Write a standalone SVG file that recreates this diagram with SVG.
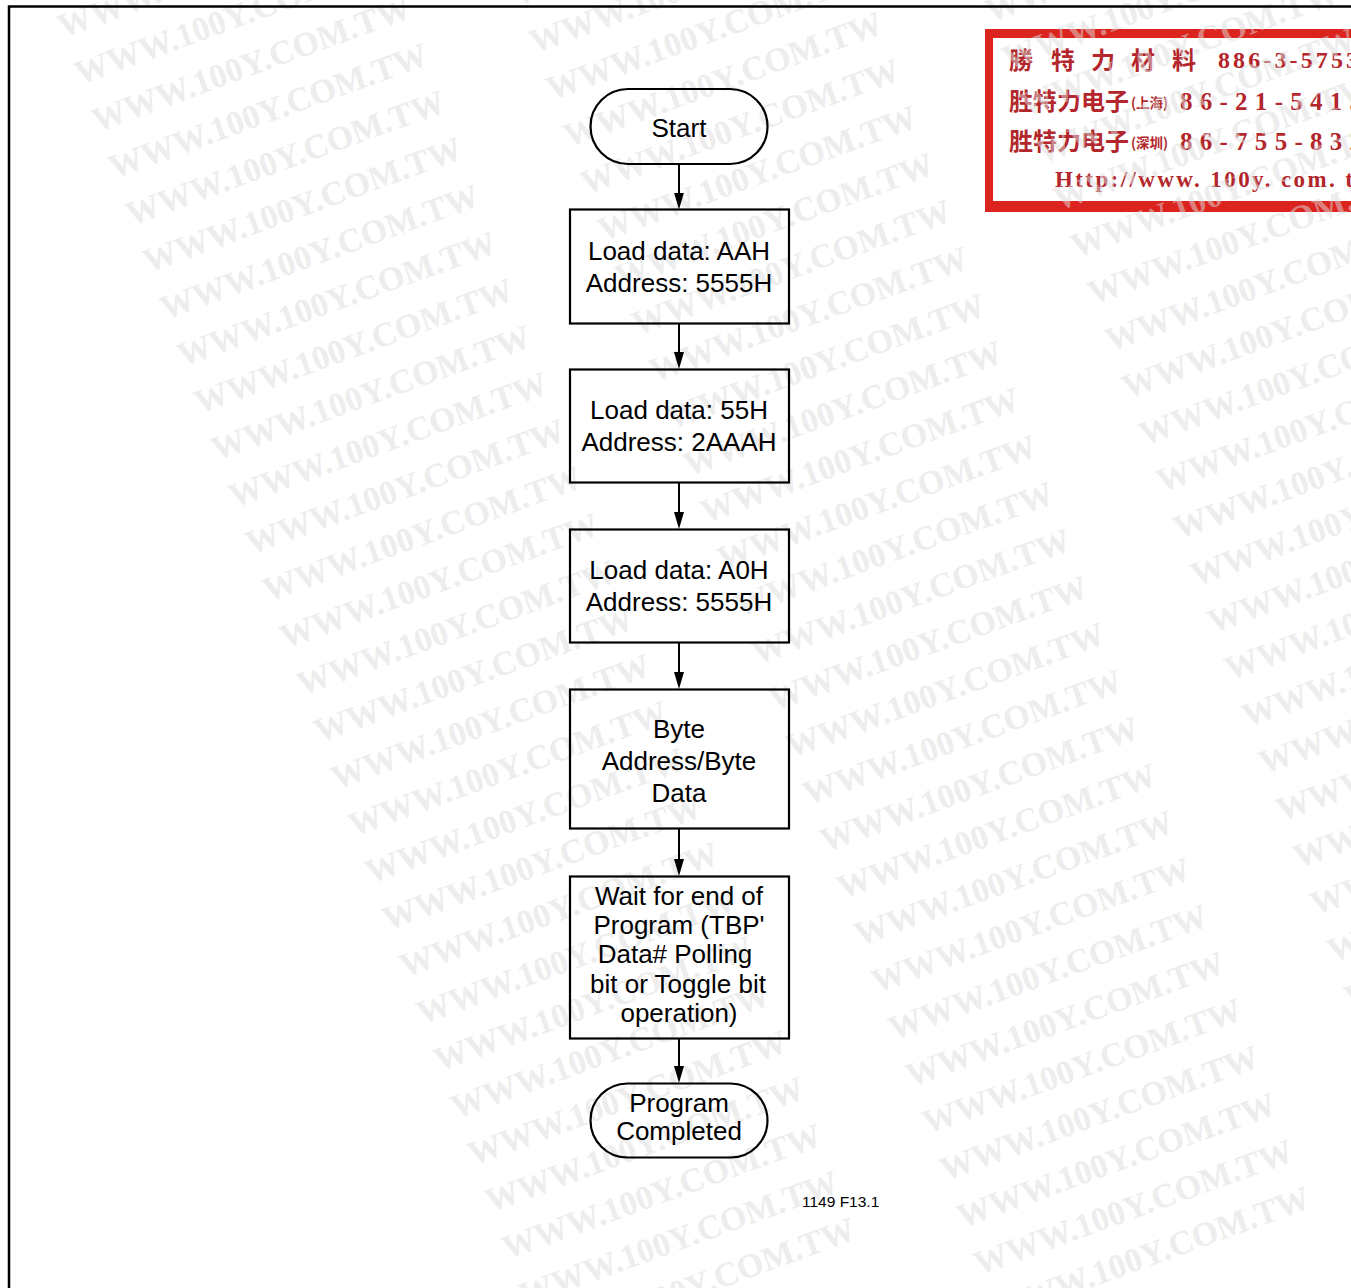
<svg xmlns="http://www.w3.org/2000/svg" xmlns:xlink="http://www.w3.org/1999/xlink" width="1351" height="1288" viewBox="0 0 1351 1288">
<style>
.box{fill:none;stroke:#000;stroke-width:2.2}
.lbl{font-family:"Liberation Sans",Arial,sans-serif;font-size:26px;fill:#000;text-anchor:middle}
.cap{font-family:"Liberation Sans",Arial,sans-serif;font-size:15.5px;fill:#000}
.conn{stroke:#000;stroke-width:2;fill:none;marker-end:url(#arr)}
.wm{font-family:"Liberation Serif","Times New Roman",serif;font-weight:bold;font-size:34px;fill:#dcdcdc;opacity:0.5}
.stc{font-family:"Noto Sans CJK TC","Noto Sans CJK SC",sans-serif;font-weight:bold;fill:#b3262b}
.stl{font-family:"Liberation Serif","Times New Roman",serif;font-weight:bold;fill:#b3262b}
</style>
<defs>
<marker id="arr" markerWidth="17" markerHeight="10" refX="11" refY="5" orient="auto" markerUnits="userSpaceOnUse">
<path d="M0,0 L17,5 L0,10 z" fill="#000"/>
</marker>
<g id="wmcol">
<text class="wm" x="0" y="0">WWW.100Y.COM.TW</text>
<text class="wm" x="0" y="50">WWW.100Y.COM.TW</text>
<text class="wm" x="0" y="100">WWW.100Y.COM.TW</text>
<text class="wm" x="0" y="150">WWW.100Y.COM.TW</text>
<text class="wm" x="0" y="200">WWW.100Y.COM.TW</text>
<text class="wm" x="0" y="250">WWW.100Y.COM.TW</text>
<text class="wm" x="0" y="300">WWW.100Y.COM.TW</text>
<text class="wm" x="0" y="350">WWW.100Y.COM.TW</text>
<text class="wm" x="0" y="400">WWW.100Y.COM.TW</text>
<text class="wm" x="0" y="450">WWW.100Y.COM.TW</text>
<text class="wm" x="0" y="500">WWW.100Y.COM.TW</text>
<text class="wm" x="0" y="550">WWW.100Y.COM.TW</text>
<text class="wm" x="0" y="600">WWW.100Y.COM.TW</text>
<text class="wm" x="0" y="650">WWW.100Y.COM.TW</text>
<text class="wm" x="0" y="700">WWW.100Y.COM.TW</text>
<text class="wm" x="0" y="750">WWW.100Y.COM.TW</text>
<text class="wm" x="0" y="800">WWW.100Y.COM.TW</text>
<text class="wm" x="0" y="850">WWW.100Y.COM.TW</text>
<text class="wm" x="0" y="900">WWW.100Y.COM.TW</text>
<text class="wm" x="0" y="950">WWW.100Y.COM.TW</text>
<text class="wm" x="0" y="1000">WWW.100Y.COM.TW</text>
<text class="wm" x="0" y="1050">WWW.100Y.COM.TW</text>
<text class="wm" x="0" y="1100">WWW.100Y.COM.TW</text>
<text class="wm" x="0" y="1150">WWW.100Y.COM.TW</text>
<text class="wm" x="0" y="1200">WWW.100Y.COM.TW</text>
<text class="wm" x="0" y="1250">WWW.100Y.COM.TW</text>
<text class="wm" x="0" y="1300">WWW.100Y.COM.TW</text>
<text class="wm" x="0" y="1350">WWW.100Y.COM.TW</text>
<text class="wm" x="0" y="1400">WWW.100Y.COM.TW</text>
<text class="wm" x="0" y="1450">WWW.100Y.COM.TW</text>
</g>
</defs>
<rect x="0" y="0" width="1351" height="1288" fill="#fff"/>

<g id="stamp">
<rect x="985" y="29" width="400" height="183" fill="#dc241f"/>
<rect x="993" y="38" width="400" height="163" fill="#fff"/>
<text class="stc" font-size="24" x="1009 1051 1091 1131 1172" y="69">勝特力材料</text>
<text class="stl" font-size="24" x="1218" y="68" textLength="140" lengthAdjust="spacing">886-3-5753</text>
<text class="stc" font-size="24" x="1009" y="110">胜特力电子</text>
<text class="stc" font-size="14" x="1131" y="108" textLength="37" lengthAdjust="spacingAndGlyphs">(上海)</text>
<text class="stl" font-size="25" x="1180" y="110" textLength="182" lengthAdjust="spacing">86-21-5415</text>
<text class="stc" font-size="24" x="1009" y="150">胜特力电子</text>
<text class="stc" font-size="14" x="1131" y="148" textLength="37" lengthAdjust="spacingAndGlyphs">(深圳)</text>
<text class="stl" font-size="25" x="1180" y="150" textLength="182" lengthAdjust="spacing">86-755-832</text>
<text class="stl" font-size="23" x="1055" y="187" textLength="298" lengthAdjust="spacing">Http://www. 100y. com. t</text>
</g>

<g id="watermark" transform="translate(18,0) rotate(-20)">
<use xlink:href="#wmcol" href="#wmcol" x="29" y="1"/>
<use xlink:href="#wmcol" href="#wmcol" x="467" y="127"/>
<use xlink:href="#wmcol" href="#wmcol" x="906" y="304"/>
</g>

<path id="frame" d="M9,1288 V6.5 H1351" fill="none" stroke="#000" stroke-width="2.5"/>

<g id="connectors">
<line class="conn" x1="679" y1="164" x2="679" y2="203.5"/>
<line class="conn" x1="679" y1="324" x2="679" y2="363"/>
<line class="conn" x1="679" y1="483" x2="679" y2="523"/>
<line class="conn" x1="679" y1="643" x2="679" y2="683"/>
<line class="conn" x1="679" y1="829" x2="679" y2="870"/>
<line class="conn" x1="679" y1="1039" x2="679" y2="1077"/>
</g>

<g id="node-start">
<rect class="box" x="590.5" y="89" width="177" height="75" rx="37.5"/>
<text class="lbl" x="679" y="137">Start</text>
</g>
<g id="node-load1">
<rect class="box" x="570" y="209.5" width="219" height="114"/>
<text class="lbl" x="679" y="260">Load data: AAH</text>
<text class="lbl" x="679" y="292">Address: 5555H</text>
</g>
<g id="node-load2">
<rect class="box" x="570" y="369.5" width="219" height="113"/>
<text class="lbl" x="679" y="419">Load data: 55H</text>
<text class="lbl" x="679" y="451">Address: 2AAAH</text>
</g>
<g id="node-load3">
<rect class="box" x="570" y="529.5" width="219" height="113"/>
<text class="lbl" x="679" y="579">Load data: A0H</text>
<text class="lbl" x="679" y="611">Address: 5555H</text>
</g>
<g id="node-byte">
<rect class="box" x="570" y="689.5" width="219" height="139"/>
<text class="lbl" x="679" y="738">Byte</text>
<text class="lbl" x="679" y="770">Address/Byte</text>
<text class="lbl" x="679" y="802">Data</text>
</g>
<g id="node-wait">
<rect class="box" x="570" y="876.5" width="219" height="162"/>
<text class="lbl" x="679" y="905">Wait for end of</text>
<text class="lbl" x="679" y="934">Program (TBP'</text>
<text class="lbl" x="675" y="963">Data# Polling</text>
<text class="lbl" x="678" y="992.5">bit or Toggle bit</text>
<text class="lbl" x="679" y="1021.5">operation)</text>
</g>
<g id="node-end">
<rect class="box" x="590.5" y="1083.5" width="177" height="74" rx="37"/>
<text class="lbl" x="679" y="1112">Program</text>
<text class="lbl" x="679" y="1140">Completed</text>
</g>
<text id="caption" class="cap" x="802" y="1206.5">1149 F13.1</text>
</svg>
